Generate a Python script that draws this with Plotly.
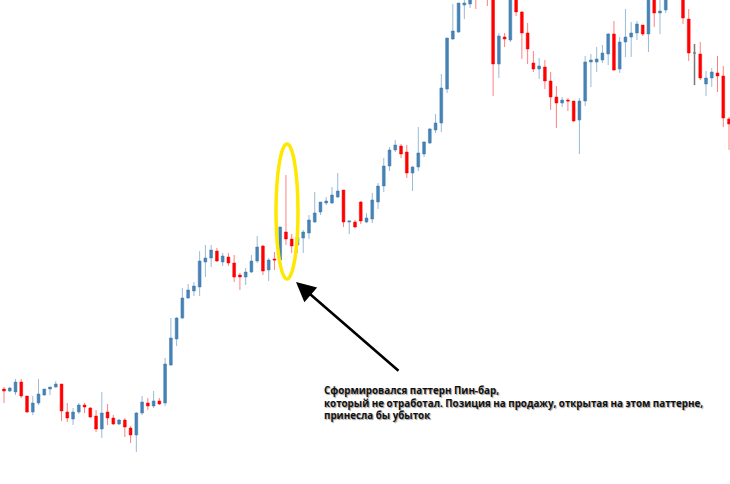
import plotly.graph_objects as go

# OHLC values (arbitrary price units), candle index 0..126
opens = [95,93,92,102,88,72,81,89,95,97,100,72,65,72,79,76,68,55,72,66,60,64,56,49,71,81,78,83,81,119,
         145,166,186,193,197,222,226,233,222,227,221,209,207,212,223,238,214,225,224,252,245,239,246,251,262,272,281,281,287,294,
         262,262,282,262,265,282,298,318,334,338,332,311,317,330,341,354,361,395,445,452,479,480,504,514,509,499,420,447,444,496,
         472,451,421,415,417,403,387,381,384,383,364,383,422,422,424,430,450,415,442,447,451,459,450,494,471,474,496,512,499,465,
         431,430,400,406,411,408,365]
highs = [97,97,105,105,88,88,105,95,97,103,100,81,76,81,81,77,74,92,80,69,65,66,58,72,88,86,93,86,126,166,
         167,196,200,202,233,239,239,236,231,231,229,211,216,229,248,239,226,232,257,309,250,250,254,269,292,282,287,297,311,294,
         263,264,283,271,291,301,326,337,344,340,339,318,357,343,356,370,410,446,480,481,489,499,509,524,519,504,451,451,499,499,
         473,461,433,426,424,412,398,387,386,383,386,428,430,437,439,451,463,447,475,462,463,459,494,499,489,496,522,519,504,475,
         440,442,413,416,428,418,367]
lows = [81,92,89,86,71,69,79,88,89,96,63,62,59,70,71,66,52,46,59,59,59,47,41,32,69,74,76,79,78,118,
        138,165,185,188,188,207,217,222,218,218,202,194,199,211,221,209,203,214,223,239,231,231,231,245,261,269,279,280,286,257,
        250,256,260,261,261,275,292,313,332,326,306,293,313,327,340,351,352,391,444,451,465,476,475,486,478,388,406,437,442,468,
        425,420,412,405,395,374,356,377,373,362,330,378,397,412,421,419,413,411,427,427,444,448,432,457,450,471,487,486,460,423,
        399,404,388,397,392,357,334]
closes = [93,96,102,88,72,81,90,95,97,100,73,66,72,79,77,67,55,71,66,60,64,57,49,71,82,78,83,80,120,146,
          166,186,194,198,223,226,234,223,228,221,207,207,212,223,237,213,224,224,257,245,238,247,252,264,271,282,283,289,293,262,
          263,257,263,266,284,298,318,334,339,330,311,317,331,342,355,361,396,446,453,481,481,494,489,494,492,420,448,445,494,472,
          451,435,415,418,403,387,381,384,383,363,383,422,424,425,431,450,414,442,447,451,460,450,489,471,473,492,514,494,466,431,
          431,406,406,412,408,366,360]

doji_index = 120  # the grey doji candle

idx = list(range(len(opens)))
main = [i for i in idx if i != doji_index]

UP = "#4682B4"
DOWN = "#FF0000"

fig = go.Figure()
fig.add_trace(go.Candlestick(
    x=main,
    open=[opens[i] for i in main], high=[highs[i] for i in main],
    low=[lows[i] for i in main], close=[closes[i] for i in main],
    increasing=dict(line=dict(color="rgba(70,130,180,0.55)", width=1), fillcolor=UP),
    decreasing=dict(line=dict(color="rgba(255,0,0,0.5)", width=1), fillcolor=DOWN),
    showlegend=False, hoverinfo="skip",
))
fig.add_trace(go.Candlestick(
    x=[doji_index],
    open=[opens[doji_index]], high=[highs[doji_index]],
    low=[lows[doji_index]], close=[closes[doji_index]],
    increasing=dict(line=dict(color="#7a7a7a", width=1.5), fillcolor="#333333"),
    decreasing=dict(line=dict(color="#7a7a7a", width=1.5), fillcolor="#333333"),
    showlegend=False, hoverinfo="skip",
))

W, H = 730, 484

def px(x):
    return x / W

def py(y):
    return 1 - y / H

fig.add_shape(type="circle", xref="paper", yref="paper",
              x0=px(276), x1=px(298), y0=py(279), y1=py(144),
              line=dict(color="#FFE800", width=3.5), layer="above")

fig.add_annotation(xref="paper", yref="paper", x=px(296), y=py(282),
                   ax=104, ay=90, text="", showarrow=True,
                   arrowhead=2, arrowsize=1.5, arrowwidth=2.6, arrowcolor="#000000",
                   standoff=0, startstandoff=0)

fig.add_annotation(xref="paper", yref="paper", x=px(322), y=py(382),
                   xanchor="left", yanchor="top", align="left", showarrow=False,
                   text=("Сформировался паттерн Пин-бар,<br>"
                         "который не отработал. Позиция на продажу, открытая на этом паттерне,<br>"
                         "принесла бы убыток"),
                   font=dict(family="Open Sans", size=9.8, color="#111111", weight="bold",
                             shadow="1px 1px 1px #9a9a9a"))

fig.update_layout(
    width=W, height=H, margin=dict(l=0, r=0, t=0, b=0),
    paper_bgcolor="white", plot_bgcolor="white",
    xaxis=dict(range=[-0.695, 126.17], visible=False, rangeslider=dict(visible=False),
               showgrid=False, zeroline=False),
    yaxis=dict(range=[0, 484], visible=False, showgrid=False, zeroline=False),
)

fig.write_html("out.html", config={"displayModeBar": False},
               post_script="document.body.style.margin='0';document.body.style.overflow='hidden';")
